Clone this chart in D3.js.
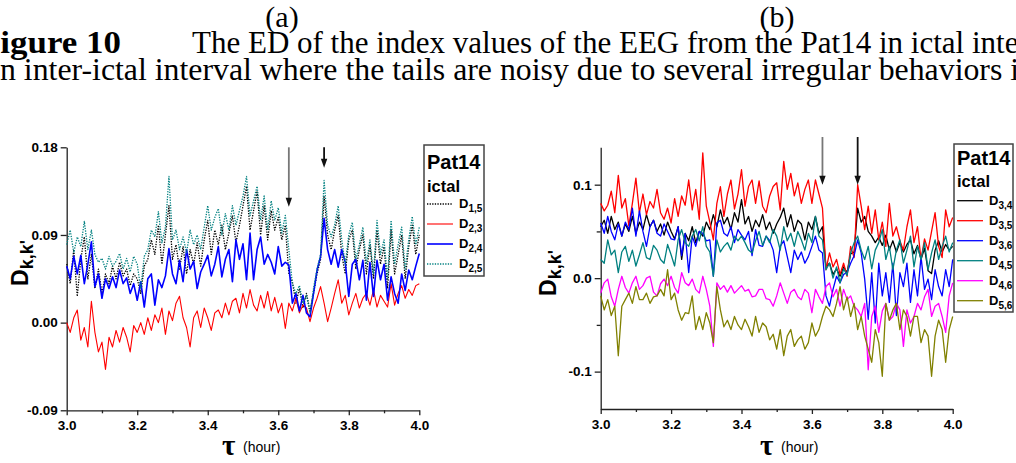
<!DOCTYPE html>
<html>
<head>
<meta charset="utf-8">
<script src="https://cdn.jsdelivr.net/npm/d3@7"></script>
<style>
	body { margin: 0; background: #fff; }
	svg { display: block; }
	.tick text { font-family: Arial, "Liberation Sans", sans-serif; font-weight: bold; font-size: 13.5px; fill: #000; }
	.domain, .tick line { stroke: #222; stroke-width: 1.3px; }
	.caption { font-family: "Liberation Serif", "Times New Roman", serif; fill: #000; }
	.lab { font-family: Arial, "Liberation Sans", sans-serif; font-weight: bold; fill: #000; }
</style>
</head>
<body>
<div id="chart"></div>
<script>

///////////////////////////////////////////////////////////////////////////
//////////////////////////////// The data /////////////////////////////////
///////////////////////////////////////////////////////////////////////////

//Samples every 0.01 hour, from tau = 3.00 to 4.00 (101 values per series)
var tStart = 3.0,
	tStep = 0.01;

//Panel (a) - ictal, Pat14
var a_D15 = [0.060,0.040,0.075,0.027,0.065,0.088,0.045,0.070,0.035,0.055,
	0.030,0.050,0.040,0.058,0.045,0.062,0.048,0.055,0.038,0.050,
	0.045,0.030,0.058,0.065,0.085,0.070,0.100,0.060,0.090,0.120,
	0.065,0.080,0.055,0.078,0.050,0.075,0.060,0.082,0.058,0.085,
	0.105,0.070,0.095,0.080,0.100,0.075,0.092,0.110,0.082,0.100,
	0.120,0.140,0.095,0.115,0.135,0.090,0.120,0.085,0.115,0.095,
	0.108,0.085,0.100,0.050,0.042,0.020,0.035,0.015,0.030,0.012,
	0.030,0.050,0.065,0.130,0.090,0.075,0.095,0.110,0.070,0.050,
	0.085,0.095,0.055,0.075,0.090,0.050,0.080,0.045,0.095,0.060,
	0.078,0.035,0.095,0.050,0.070,0.090,0.045,0.078,0.100,0.070,
	0.090];

var a_D23 = [0.000,-0.010,0.005,0.013,-0.018,-0.005,-0.025,0.022,-0.010,-0.030,
	-0.020,-0.048,-0.015,-0.025,-0.008,-0.020,-0.005,-0.015,-0.030,-0.003,
	-0.010,0.000,-0.012,0.005,-0.008,0.008,0.000,0.015,-0.012,0.012,
	0.002,0.020,0.027,0.005,-0.005,-0.025,0.005,0.012,-0.005,0.015,
	0.005,-0.008,0.010,0.013,0.005,0.020,0.008,0.022,0.025,0.010,
	0.030,0.015,0.034,0.018,0.012,0.028,0.015,0.032,0.012,0.026,
	0.010,0.020,-0.006,0.020,0.012,0.025,0.010,0.018,0.015,0.001,
	0.015,0.025,0.037,0.020,0.001,0.015,0.030,0.044,0.020,0.028,
	0.008,0.020,0.030,0.015,0.025,0.030,0.018,0.034,0.016,0.028,
	0.022,0.016,0.040,0.018,0.030,0.038,0.025,0.034,0.028,0.038,
	0.040];

var a_D24 = [0.058,0.045,0.068,0.050,0.069,0.040,0.060,0.083,0.037,0.050,
	0.025,0.045,0.035,0.047,0.036,0.054,0.040,0.046,0.030,0.040,
	0.023,0.042,0.016,0.045,0.050,0.018,0.044,0.036,0.048,0.076,
	0.050,0.040,0.064,0.042,0.075,0.055,0.063,0.035,0.052,0.060,
	0.069,0.048,0.060,0.078,0.047,0.065,0.075,0.042,0.085,0.065,
	0.081,0.044,0.092,0.044,0.075,0.088,0.060,0.070,0.062,0.050,
	0.078,0.058,0.062,0.059,0.020,0.030,0.012,0.028,0.010,0.006,
	0.030,0.054,0.068,0.107,0.075,0.060,0.075,0.057,0.075,0.062,
	0.027,0.060,0.065,0.044,0.064,0.023,0.062,0.027,0.064,0.044,
	0.060,0.023,0.047,0.030,0.020,0.050,0.033,0.054,0.044,0.058,
	0.071];

var a_D25 = [0.080,0.095,0.072,0.088,0.078,0.104,0.075,0.095,0.070,0.062,
	0.066,0.055,0.068,0.058,0.063,0.071,0.055,0.066,0.052,0.068,
	0.060,0.035,0.068,0.075,0.095,0.088,0.114,0.082,0.098,0.150,
	0.085,0.095,0.075,0.088,0.072,0.095,0.080,0.090,0.075,0.098,
	0.120,0.095,0.108,0.117,0.090,0.112,0.095,0.120,0.100,0.115,
	0.130,0.150,0.110,0.125,0.140,0.105,0.130,0.095,0.125,0.105,
	0.118,0.092,0.110,0.075,0.040,0.030,0.038,0.020,0.028,0.010,
	0.035,0.055,0.070,0.146,0.100,0.088,0.100,0.120,0.085,0.060,
	0.090,0.103,0.065,0.080,0.098,0.060,0.085,0.050,0.105,0.070,
	0.085,0.045,0.105,0.060,0.080,0.098,0.055,0.085,0.109,0.080,
	0.098];

//Panel (b) - ictal, Pat14
var b_D34 = [0.055,0.062,0.048,0.066,0.052,0.060,0.045,0.058,0.050,0.066,
	0.048,0.060,0.052,0.068,0.055,0.062,0.050,0.058,0.046,0.060,
	0.050,0.042,0.055,0.020,0.048,0.040,0.055,0.038,0.050,0.045,
	0.060,0.052,0.068,0.055,0.073,0.058,0.065,0.052,0.070,0.060,
	0.084,0.058,0.066,0.050,0.062,0.055,0.068,0.052,0.060,0.048,
	0.058,0.065,0.075,0.055,0.068,0.050,0.062,0.058,0.041,0.060,
	0.052,0.066,0.048,0.055,0.012,0.016,0.004,0.010,0.002,0.012,
	0.006,0.026,0.028,0.075,0.060,0.066,0.050,0.045,0.038,0.044,
	0.035,0.046,0.030,0.040,0.028,0.038,0.028,0.036,0.041,0.026,
	0.035,0.020,0.032,0.008,0.005,0.030,0.040,0.028,0.036,0.030,
	0.034];

var b_D35 = [0.080,0.072,0.078,0.093,0.070,0.110,0.075,0.085,0.056,0.080,
	0.107,0.070,0.090,0.068,0.082,0.075,0.095,0.070,0.063,0.075,
	0.059,0.085,0.066,0.088,0.078,0.105,0.073,0.095,0.063,0.134,
	0.077,0.060,0.041,0.080,0.098,0.066,0.090,0.105,0.074,0.090,
	0.116,0.077,0.098,0.105,0.080,0.104,0.077,0.070,0.088,0.098,
	0.102,0.073,0.125,0.095,0.112,0.088,0.102,0.080,0.095,0.105,
	0.080,0.105,0.090,0.075,0.009,0.027,0.012,0.020,0.004,0.016,
	0.002,0.034,0.022,0.100,0.077,0.052,0.077,0.048,0.073,0.041,
	0.060,0.034,0.080,0.045,0.055,0.040,0.030,0.055,0.073,0.038,
	0.055,0.020,0.042,0.030,0.050,0.070,0.034,0.022,0.073,0.055,
	0.065];

var b_D36 = [0.059,0.048,0.066,0.050,0.041,0.058,0.045,0.060,0.052,0.075,
	0.045,0.072,0.050,0.034,0.055,0.062,0.048,0.045,0.058,0.050,
	0.042,0.041,0.055,0.024,0.048,0.006,0.045,0.034,0.050,0.048,
	0.040,0.041,0.002,0.059,0.062,0.048,0.045,0.055,0.038,0.052,
	0.046,0.041,0.050,0.024,0.052,0.035,0.034,0.045,0.040,0.030,
	0.006,0.034,0.040,0.023,0.006,0.030,0.020,0.028,0.016,0.023,
	0.034,0.045,0.030,0.027,-0.019,-0.030,-0.012,0.002,-0.005,0.004,
	0.006,0.016,0.024,0.041,0.027,-0.001,-0.044,0.006,-0.048,0.016,
	-0.019,0.006,-0.026,0.016,-0.040,0.006,-0.009,0.016,-0.026,0.009,
	-0.019,0.023,-0.012,-0.001,-0.023,0.009,-0.009,-0.019,0.009,-0.009,
	0.020];

var b_D45 = [0.020,0.016,0.041,0.025,0.030,0.006,0.028,0.034,0.018,0.030,
	0.013,0.025,0.038,0.022,0.020,0.035,0.030,0.020,0.016,0.036,
	0.025,0.013,0.041,0.052,0.038,0.034,0.045,0.052,0.040,0.055,
	0.034,0.028,0.002,0.041,0.028,0.034,0.038,0.030,0.045,0.040,
	0.045,0.038,0.030,0.027,0.040,0.050,0.035,0.045,0.038,0.052,
	0.045,0.030,0.055,0.040,0.048,0.034,0.050,0.041,0.030,0.048,
	0.038,0.066,0.045,0.041,0.009,0.016,0.000,0.012,-0.005,0.010,
	0.003,0.027,0.038,0.045,0.030,0.020,0.034,0.010,0.030,0.038,
	0.052,0.020,0.034,0.009,0.030,0.041,0.016,0.030,0.045,0.012,
	0.034,0.020,0.038,0.009,0.027,0.041,0.020,0.034,0.045,0.028,
	0.038];

var b_D46 = [-0.016,-0.005,-0.001,-0.020,-0.030,-0.012,0.002,-0.010,-0.016,-0.005,
	0.002,-0.012,-0.008,0.000,0.002,-0.015,-0.019,-0.006,-0.001,-0.008,
	0.002,-0.010,-0.016,0.006,-0.005,-0.008,-0.001,-0.012,-0.016,0.002,
	-0.012,-0.030,-0.073,-0.005,-0.012,-0.008,-0.015,-0.008,-0.016,-0.012,
	-0.008,-0.014,-0.012,-0.020,-0.019,-0.012,-0.012,-0.022,-0.023,-0.030,
	-0.019,-0.005,-0.016,-0.027,-0.015,-0.012,-0.020,-0.023,-0.012,-0.016,
	-0.037,-0.012,-0.020,-0.027,-0.009,-0.005,-0.020,-0.012,-0.030,-0.012,
	-0.023,-0.019,-0.030,-0.034,-0.041,-0.027,-0.098,-0.041,-0.030,-0.058,
	-0.035,-0.027,-0.045,-0.041,-0.027,-0.034,-0.073,-0.034,-0.048,-0.041,
	-0.027,-0.034,-0.020,-0.012,-0.041,-0.030,-0.027,-0.041,-0.058,-0.019,
	-0.005];

var b_D56 = [-0.019,-0.034,-0.023,-0.040,-0.030,-0.083,-0.030,-0.023,-0.016,-0.027,
	-0.009,-0.023,-0.023,-0.016,-0.027,-0.020,-0.019,-0.012,-0.019,0.009,
	-0.023,-0.016,-0.034,-0.045,-0.037,-0.038,-0.019,-0.055,-0.041,-0.055,
	-0.037,-0.048,-0.069,-0.009,-0.034,-0.052,-0.045,-0.055,-0.041,-0.050,
	-0.055,-0.044,-0.052,-0.062,-0.041,-0.058,-0.048,-0.052,-0.066,-0.060,
	-0.076,-0.055,-0.083,-0.062,-0.055,-0.073,-0.066,-0.062,-0.076,-0.069,
	-0.048,-0.062,-0.055,-0.041,-0.030,-0.034,-0.041,-0.027,-0.009,-0.034,
	-0.020,-0.041,-0.027,-0.055,-0.041,-0.062,-0.076,-0.090,-0.055,-0.069,
	-0.105,-0.027,-0.045,-0.034,-0.027,-0.055,-0.034,-0.041,-0.062,-0.041,
	-0.041,-0.069,-0.055,-0.062,-0.105,-0.062,-0.045,-0.055,-0.090,-0.055,
	-0.041];

//Axis ticks
var xTicks = [3.0, 3.2, 3.4, 3.6, 3.8, 4.0],
	xMinorTicks = [3.1, 3.3, 3.5, 3.7, 3.9];
var yTicksA = [-0.09, 0.00, 0.09, 0.18],
	yTicksB = [-0.1, 0.0, 0.1],
	yMinorTicksB = [-0.05, 0.05];

//Seizure markers (hour)
var markerTimes = [3.63, 3.73];

var seriesA = [
	{name: "1,5", values: a_D15, color: "#000000", dash: "1.3,1.3", width: 1.3},
	{name: "2,3", values: a_D23, color: "#ff0000", dash: null, width: 1.1},
	{name: "2,4", values: a_D24, color: "#0000ff", dash: null, width: 1.6},
	{name: "2,5", values: a_D25, color: "#008080", dash: "1.3,1.3", width: 1.3}
];
var seriesB = [
	{name: "3,4", values: b_D34, color: "#000000", dash: null, width: 1.3},
	{name: "3,5", values: b_D35, color: "#ff0000", dash: null, width: 1.3},
	{name: "3,6", values: b_D36, color: "#0000ff", dash: null, width: 1.3},
	{name: "4,5", values: b_D45, color: "#008080", dash: null, width: 1.3},
	{name: "4,6", values: b_D46, color: "#ff00ff", dash: null, width: 1.3},
	{name: "5,6", values: b_D56, color: "#808000", dash: null, width: 1.3}
];

///////////////////////////////////////////////////////////////////////////
//////////////////////////// Set up the SVG ///////////////////////////////
///////////////////////////////////////////////////////////////////////////

var width = 1016,
	height = 463;

var svg = d3.select("#chart").append("svg")
	.attr("width", width)
	.attr("height", height);

svg.append("rect").attr("width", width).attr("height", height).style("fill", "#fff");

//Plain hyphen for negative tick labels, as in the original
function hyphenFormat(spec) {
	var f = d3.format(spec);
	return function(d) { return f(d).replace("\u2212", "-"); };
}

///////////////////////////////////////////////////////////////////////////
///////////////////////////// Caption text ////////////////////////////////
///////////////////////////////////////////////////////////////////////////

svg.append("text").attr("class", "caption")
	.attr("x", 282).attr("y", 27)
	.attr("text-anchor", "middle")
	.style("font-size", "30px")
	.text("(a)");
svg.append("text").attr("class", "caption")
	.attr("x", 777).attr("y", 27)
	.attr("text-anchor", "middle")
	.style("font-size", "30px")
	.text("(b)");

//The figure caption is cut off on both sides
svg.append("text").attr("class", "caption")
	.attr("x", -21).attr("y", 53)
	.attr("textLength", 142)
	.attr("lengthAdjust", "spacingAndGlyphs")
	.style("font-size", "31px")
	.style("font-weight", "bold")
	.text("Figure 10");
svg.append("text").attr("class", "caption")
	.attr("x", 192).attr("y", 53)
	.style("font-size", "31px")
	.text("The ED of the index values of the EEG from the Pat14 in ictal interval");
svg.append("text").attr("class", "caption")
	.attr("x", 0).attr("y", 80)
	.style("font-size", "31.8px")
	.text("n inter-ictal interval where the tails are noisy due to several irregular behaviors in");

///////////////////////////////////////////////////////////////////////////
//////////////////////////// Draw the panels //////////////////////////////
///////////////////////////////////////////////////////////////////////////

drawPanel({
	series: seriesA,
	xRange: [66.7, 419.3],
	yDomain: [-0.09, 0.18],
	yRange: [410.3, 147.3],
	yTicks: yTicksA,
	yMinor: [],
	yFormat: hyphenFormat(".2f"),
	yLabel: {x: 28, y: 263},
	tau: {x: 222, y: 455},
	arrows: [{from: 0.18, to: 0.119, color: "#777"}, {from: 0.18, to: 0.159, color: "#111"}],
	legend: {x: 424, y: 145, w: 60, h: 131, titleY: 169, ictalY: 191.5, rowY: 204, rowStep: 20}
});

drawPanel({
	series: seriesB,
	xRange: [600.7, 952.7],
	yDomain: [-0.14, 0.14],
	yRange: [409, 147.3],
	yTicks: yTicksB,
	yMinor: yMinorTicksB,
	yFormat: hyphenFormat(".1f"),
	yLabel: {x: 556, y: 273},
	tau: {x: 760, y: 455},
	arrows: [{from: 0.151, to: 0.10, color: "#777"}, {from: 0.151, to: 0.10, color: "#111"}],
	legend: {x: 954, y: 144, w: 59, h: 168, titleY: 165, ictalY: 186.5, rowY: 200.7, rowStep: 20}
});

///////////////////////////////////////////////////////////////////////////
/////////////////////// Function to draw one panel ////////////////////////
///////////////////////////////////////////////////////////////////////////

function drawPanel(cfg) {

	var g = svg.append("g");

	var x = d3.scaleLinear().domain([3, 4]).range(cfg.xRange);
	var y = d3.scaleLinear().domain(cfg.yDomain).range(cfg.yRange);

	//Axes
	g.append("g")
		.attr("transform", "translate(0," + cfg.yRange[0] + ")")
		.call(d3.axisBottom(x).tickValues(xTicks).tickFormat(d3.format(".1f")).tickSize(5).tickPadding(5).tickSizeOuter(0));
	g.append("g")
		.attr("transform", "translate(0," + cfg.yRange[0] + ")")
		.call(d3.axisBottom(x).tickValues(xMinorTicks).tickFormat("").tickSize(3).tickSizeOuter(0))
		.select(".domain").remove();

	g.append("g")
		.attr("transform", "translate(" + cfg.xRange[0] + ",0)")
		.call(d3.axisLeft(y).tickValues(cfg.yTicks).tickFormat(cfg.yFormat).tickSize(6).tickPadding(3).tickSizeOuter(0));
	if(cfg.yMinor.length) {
		g.append("g")
			.attr("transform", "translate(" + cfg.xRange[0] + ",0)")
			.call(d3.axisLeft(y).tickValues(cfg.yMinor).tickFormat("").tickSize(4).tickSizeOuter(0))
			.select(".domain").remove();
	}//if

	//The lines
	var line = d3.line()
		.x(function(d,i) { return x(tStart + i*tStep); })
		.y(function(d) { return y(d); });

	g.selectAll(".series")
		.data(cfg.series)
		.enter().append("path")
		.attr("class", "series")
		.attr("d", function(d) { return line(d.values); })
		.style("fill", "none")
		.style("stroke", function(d) { return d.color; })
		.style("stroke-width", function(d) { return d.width; })
		.style("stroke-dasharray", function(d) { return d.dash; })
		.style("stroke-linejoin", "round");

	//Arrows at the markers
	cfg.arrows.forEach(function(a, i) {
		var ax = x(markerTimes[i]),
			y0 = y(a.from),
			y1 = y(a.to);
		g.append("line")
			.attr("x1", ax).attr("x2", ax)
			.attr("y1", y0).attr("y2", y1 - 6)
			.style("stroke", a.color)
			.style("stroke-width", 1.8);
		g.append("path")
			.attr("d", "M" + (ax-3.2) + "," + (y1-9) + "L" + (ax+3.2) + "," + (y1-9) + "L" + ax + "," + y1 + "Z")
			.style("fill", "#111");
	});

	//Y axis title
	var yl = g.append("text")
		.attr("class", "lab")
		.attr("transform", "translate(" + cfg.yLabel.x + "," + cfg.yLabel.y + ") rotate(-90)")
		.attr("text-anchor", "middle");
	yl.append("tspan").style("font-size", "23px").text("D");
	yl.append("tspan").style("font-size", "18px").attr("dy", 5).text("k,k'");

	//X axis title
	g.append("text")
		.attr("x", cfg.tau.x).attr("y", cfg.tau.y)
		.style("font-family", "'Liberation Serif', serif")
		.style("font-weight", "bold")
		.style("font-size", "29px")
		.text("τ");
	g.append("text")
		.attr("x", cfg.tau.x + 21).attr("y", cfg.tau.y - 3)
		.style("font-family", "Arial, 'Liberation Sans', sans-serif")
		.style("font-size", "14px")
		.text("(hour)");

	//Legend
	var L = cfg.legend;
	var leg = g.append("g");
	leg.append("rect")
		.attr("x", L.x).attr("y", L.y)
		.attr("width", L.w).attr("height", L.h)
		.style("fill", "#fff")
		.style("stroke", "#444")
		.style("stroke-width", 1.5);
	leg.append("text").attr("class", "lab")
		.attr("x", L.x + 3).attr("y", L.titleY)
		.style("font-size", "20px")
		.text("Pat14");
	leg.append("text").attr("class", "lab")
		.attr("x", L.x + 3).attr("y", L.ictalY)
		.style("font-size", "16.5px")
		.text("ictal");

	var row = leg.selectAll(".legend-row")
		.data(cfg.series)
		.enter().append("g")
		.attr("class", "legend-row")
		.attr("transform", function(d,i) { return "translate(" + L.x + "," + (L.rowY + i*L.rowStep) + ")"; });
	row.append("line")
		.attr("x1", 3).attr("x2", 29)
		.style("stroke", function(d) { return d.color; })
		.style("stroke-width", function(d) { return d.width; })
		.style("stroke-dasharray", function(d) { return d.dash; });
	var rt = row.append("text").attr("class", "lab")
		.attr("x", 35).attr("y", 4);
	rt.append("tspan").style("font-size", "13px").text("D");
	rt.append("tspan").style("font-size", "10px").attr("dy", 4).text(function(d) { return d.name; });

}//function drawPanel

</script>
</body>
</html>
